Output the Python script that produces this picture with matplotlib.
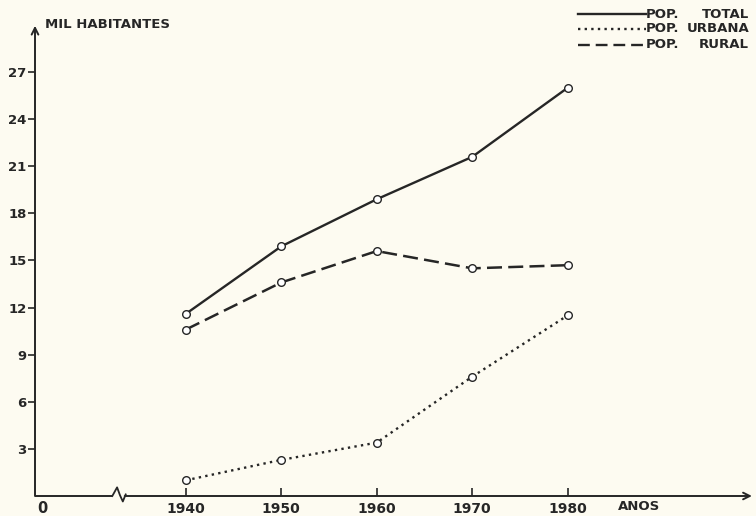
import numpy as np
import matplotlib
matplotlib.use('Agg')
import matplotlib.pyplot as plt
from matplotlib.lines import Line2D

plt.rcParams['font.family'] = 'DejaVu Sans'
plt.rcParams['font.weight'] = 'bold'

# data (thousand inhabitants)
anos = [1940, 1950, 1960, 1970, 1980]
pop_total = [11.6, 15.9, 18.9, 21.6, 26.0]
pop_urbana = [1.0, 2.3, 3.4, 7.6, 11.5]
pop_rural = [10.6, 13.6, 15.6, 14.5, 14.7]
yticks = [3, 6, 9, 12, 15, 18, 21, 24, 27]

bg = '#fdfbf1'
ink = '#262626'
W, H = 756, 516

fig = plt.figure(figsize=(7.56, 5.16), dpi=100, facecolor=bg)
ax = fig.add_axes([35 / W, 20 / H, (750 - 35) / W, (H - 20 - 27) / H])
ax.set_facecolor(bg)

x0, x1 = 1924.2, 1999.1
ax.set_xlim(x0, x1)
ax.set_ylim(0, 29.87)
for s in ax.spines.values():
    s.set_visible(False)

mk = dict(marker='o', ms=5.5, mfc='white', mec=ink, mew=1.0, color=ink)
ax.plot(anos, pop_total, ls='-', lw=1.7, **mk, zorder=3)
ax.plot(anos, pop_rural, ls=(0, (6, 2.5)), lw=1.8, **mk, zorder=3)
ax.plot(anos, pop_urbana, ls=(0, (1, 1.8)), lw=1.7, **mk, zorder=3)

# y axis with arrow
ax.annotate('', xy=(x0, 29.95), xytext=(x0, 0), xycoords='data',
            arrowprops=dict(arrowstyle='->', lw=1.4, color=ink,
                            mutation_scale=12, shrinkA=0, shrinkB=0),
            annotation_clip=False)
# x axis: left piece, break, right piece with arrow
ax.plot([x0, 1932.3], [0, 0], color=ink, lw=1.4, clip_on=False,
        solid_capstyle='butt')
ax.plot([1932.3, 1932.8, 1933.1, 1933.4, 1933.7],
        [0, 0.55, 0.05, -0.35, 0.1], color=ink, lw=1.3, clip_on=False)
ax.annotate('', xy=(x1 + 0.2, 0), xytext=(1933.6, 0), xycoords='data',
            arrowprops=dict(arrowstyle='->', lw=1.4, color=ink,
                            mutation_scale=12, shrinkA=0, shrinkB=0),
            annotation_clip=False)

ax.set_yticks(yticks)
ax.set_yticklabels([str(v) for v in yticks])
ax.tick_params(axis='y', direction='out', length=5, width=1.2, color=ink,
               labelcolor=ink, labelsize=9.5, pad=1)
ax.set_xticks(anos)
ax.set_xticklabels([str(a) for a in anos])
ax.tick_params(axis='x', direction='in', length=6, width=1.2, color=ink,
               labelcolor=ink, labelsize=10, pad=4)

ax.text(x0 + 0.8, -0.35, '0', ha='center', va='top', fontsize=10.5,
        color=ink, clip_on=False)
ax.text(1987.5, -0.25, 'ANOS', ha='center', va='top', fontsize=9.5,
        color=ink, clip_on=False)
ax.text(x0 + 1.0, 30.0, 'MIL HABITANTES', ha='left', va='center',
        fontsize=9.5, color=ink, clip_on=False)

# hand-lettered legend, top right
rows = [('TOTAL', '-', 14), ('URBANA', (0, (1, 1.8)), 29),
        ('RURAL', (0, (5, 2.5)), 45)]
for name, ls, yp in rows:
    fy = 1 - yp / H
    fig.add_artist(Line2D([578 / W, 646 / W], [fy, fy], ls=ls, lw=1.7,
                          color=ink))
    fig.text(646 / W, fy, 'POP.', ha='left', va='center', fontsize=9.5,
             color=ink)
    fig.text(749 / W, fy, name, ha='right', va='center', fontsize=9.5,
             color=ink)

fig.savefig('out.png', dpi=100, facecolor=bg)
